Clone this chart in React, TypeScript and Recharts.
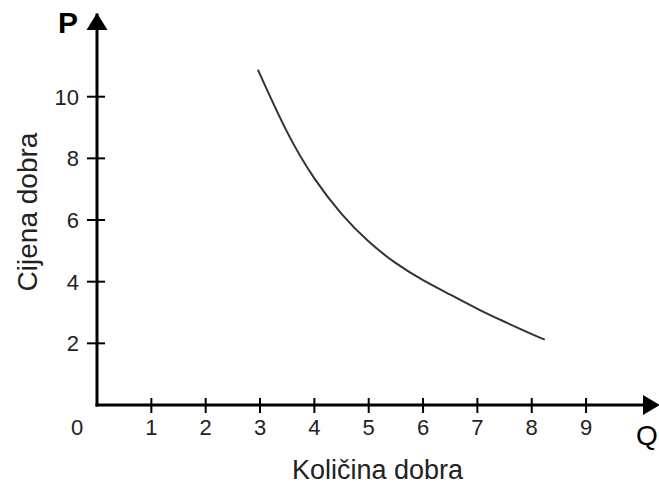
import { Line, LineChart, ReferenceDot, XAxis, YAxis } from 'recharts';

const quantity = [2.96, 3.5, 4, 4.5, 5, 5.5, 6, 6.5, 7, 7.5, 8, 8.24];
const price = [10.88, 8.85, 7.35, 6.2, 5.3, 4.6, 4.05, 3.58, 3.12, 2.7, 2.3, 2.12];

const qTicks = [0, 1, 2, 3, 4, 5, 6, 7, 8, 9];
const pTicks = [2, 4, 6, 8, 10];
const qMax = 10.25;
const pMax = 12.65;

const xTitle = 'Količina dobra';
const yTitle = 'Cijena dobra';

const FONT = '"Liberation Sans", Arial, sans-serif';

const data = quantity.map((q, i) => ({ q, p: price[i] }));

function QTick({ x, y, payload }: any) {
  if (payload.value === 0) {
    return (
      <text x={x - 20} y={y + 30} textAnchor="middle" fontSize={22} fontFamily={FONT} fill="#222">
        0
      </text>
    );
  }
  return (
    <g>
      <line x1={x} x2={x} y1={y - 7} y2={y + 8} stroke="#000" strokeWidth={2} />
      <text x={x} y={y + 30} textAnchor="middle" fontSize={22} fontFamily={FONT} fill="#222">
        {payload.value}
      </text>
    </g>
  );
}

function PTick({ x, y, payload }: any) {
  return (
    <g>
      <line x1={x - 10} x2={x + 8} y1={y} y2={y} stroke="#000" strokeWidth={2} />
      <text x={x - 18} y={y + 8} textAnchor="end" fontSize={22} fontFamily={FONT} fill="#222">
        {payload.value}
      </text>
    </g>
  );
}

function XArrow({ cx, cy }: any) {
  return (
    <g>
      <polygon points={`${cx - 11},${cy - 10} ${cx + 6},${cy} ${cx - 11},${cy + 10}`} fill="#000" />
      <text x={cx - 18} y={cy + 40} fontSize={28} fontFamily={FONT} fill="#000">
        Q
      </text>
    </g>
  );
}

function YArrow({ cx, cy }: any) {
  return (
    <g>
      <polygon points={`${cx - 10.5},${cy + 15} ${cx},${cy - 2} ${cx + 10.5},${cy + 15}`} fill="#000" />
      <text x={cx - 29} y={cy + 18} textAnchor="middle" fontSize={30} fontWeight="bold" fontFamily={FONT} fill="#000">
        P
      </text>
    </g>
  );
}

export default function App() {
  return (
    <div style={{ position: 'absolute', left: 0, top: 0, background: '#fff' }}>
      <LineChart width={659} height={486} data={data} margin={{ top: 15, right: 5, bottom: 0, left: 0 }}>
        <XAxis
          type="number"
          dataKey="q"
          domain={[0, qMax]}
          ticks={qTicks}
          interval={0}
          height={81}
          tickSize={0}
          tickMargin={0}
          tick={<QTick />}
          axisLine={{ stroke: '#000', strokeWidth: 3, strokeLinecap: 'square' }}
          label={{
            content: ({ viewBox }: any) => (
              <text
                x={viewBox.x + viewBox.width / 2 + 2}
                y={viewBox.y + 74}
                textAnchor="middle"
                fontSize={27}
                fontFamily={FONT}
                fill="#222"
              >
                {xTitle}
              </text>
            ),
          }}
        />
        <YAxis
          type="number"
          domain={[0, pMax]}
          ticks={pTicks}
          interval={0}
          width={97}
          tickSize={0}
          tickMargin={0}
          tick={<PTick />}
          axisLine={{ stroke: '#000', strokeWidth: 3, strokeLinecap: 'square' }}
          label={{
            content: ({ viewBox }: any) => {
              const cy = viewBox.y + viewBox.height / 2 + 2;
              return (
                <text
                  x={37}
                  y={cy}
                  transform={`rotate(-90 37 ${cy})`}
                  textAnchor="middle"
                  fontSize={28}
                  fontFamily={FONT}
                  fill="#222"
                >
                  {yTitle}
                </text>
              );
            },
          }}
        />
        <Line
          type="natural"
          dataKey="p"
          stroke="#333"
          strokeWidth={2}
          dot={false}
          isAnimationActive={false}
        />
        <ReferenceDot x={qMax} y={0} r={0} ifOverflow="visible" shape={<XArrow />} />
        <ReferenceDot x={0} y={pMax} r={0} ifOverflow="visible" shape={<YArrow />} />
      </LineChart>
    </div>
  );
}
